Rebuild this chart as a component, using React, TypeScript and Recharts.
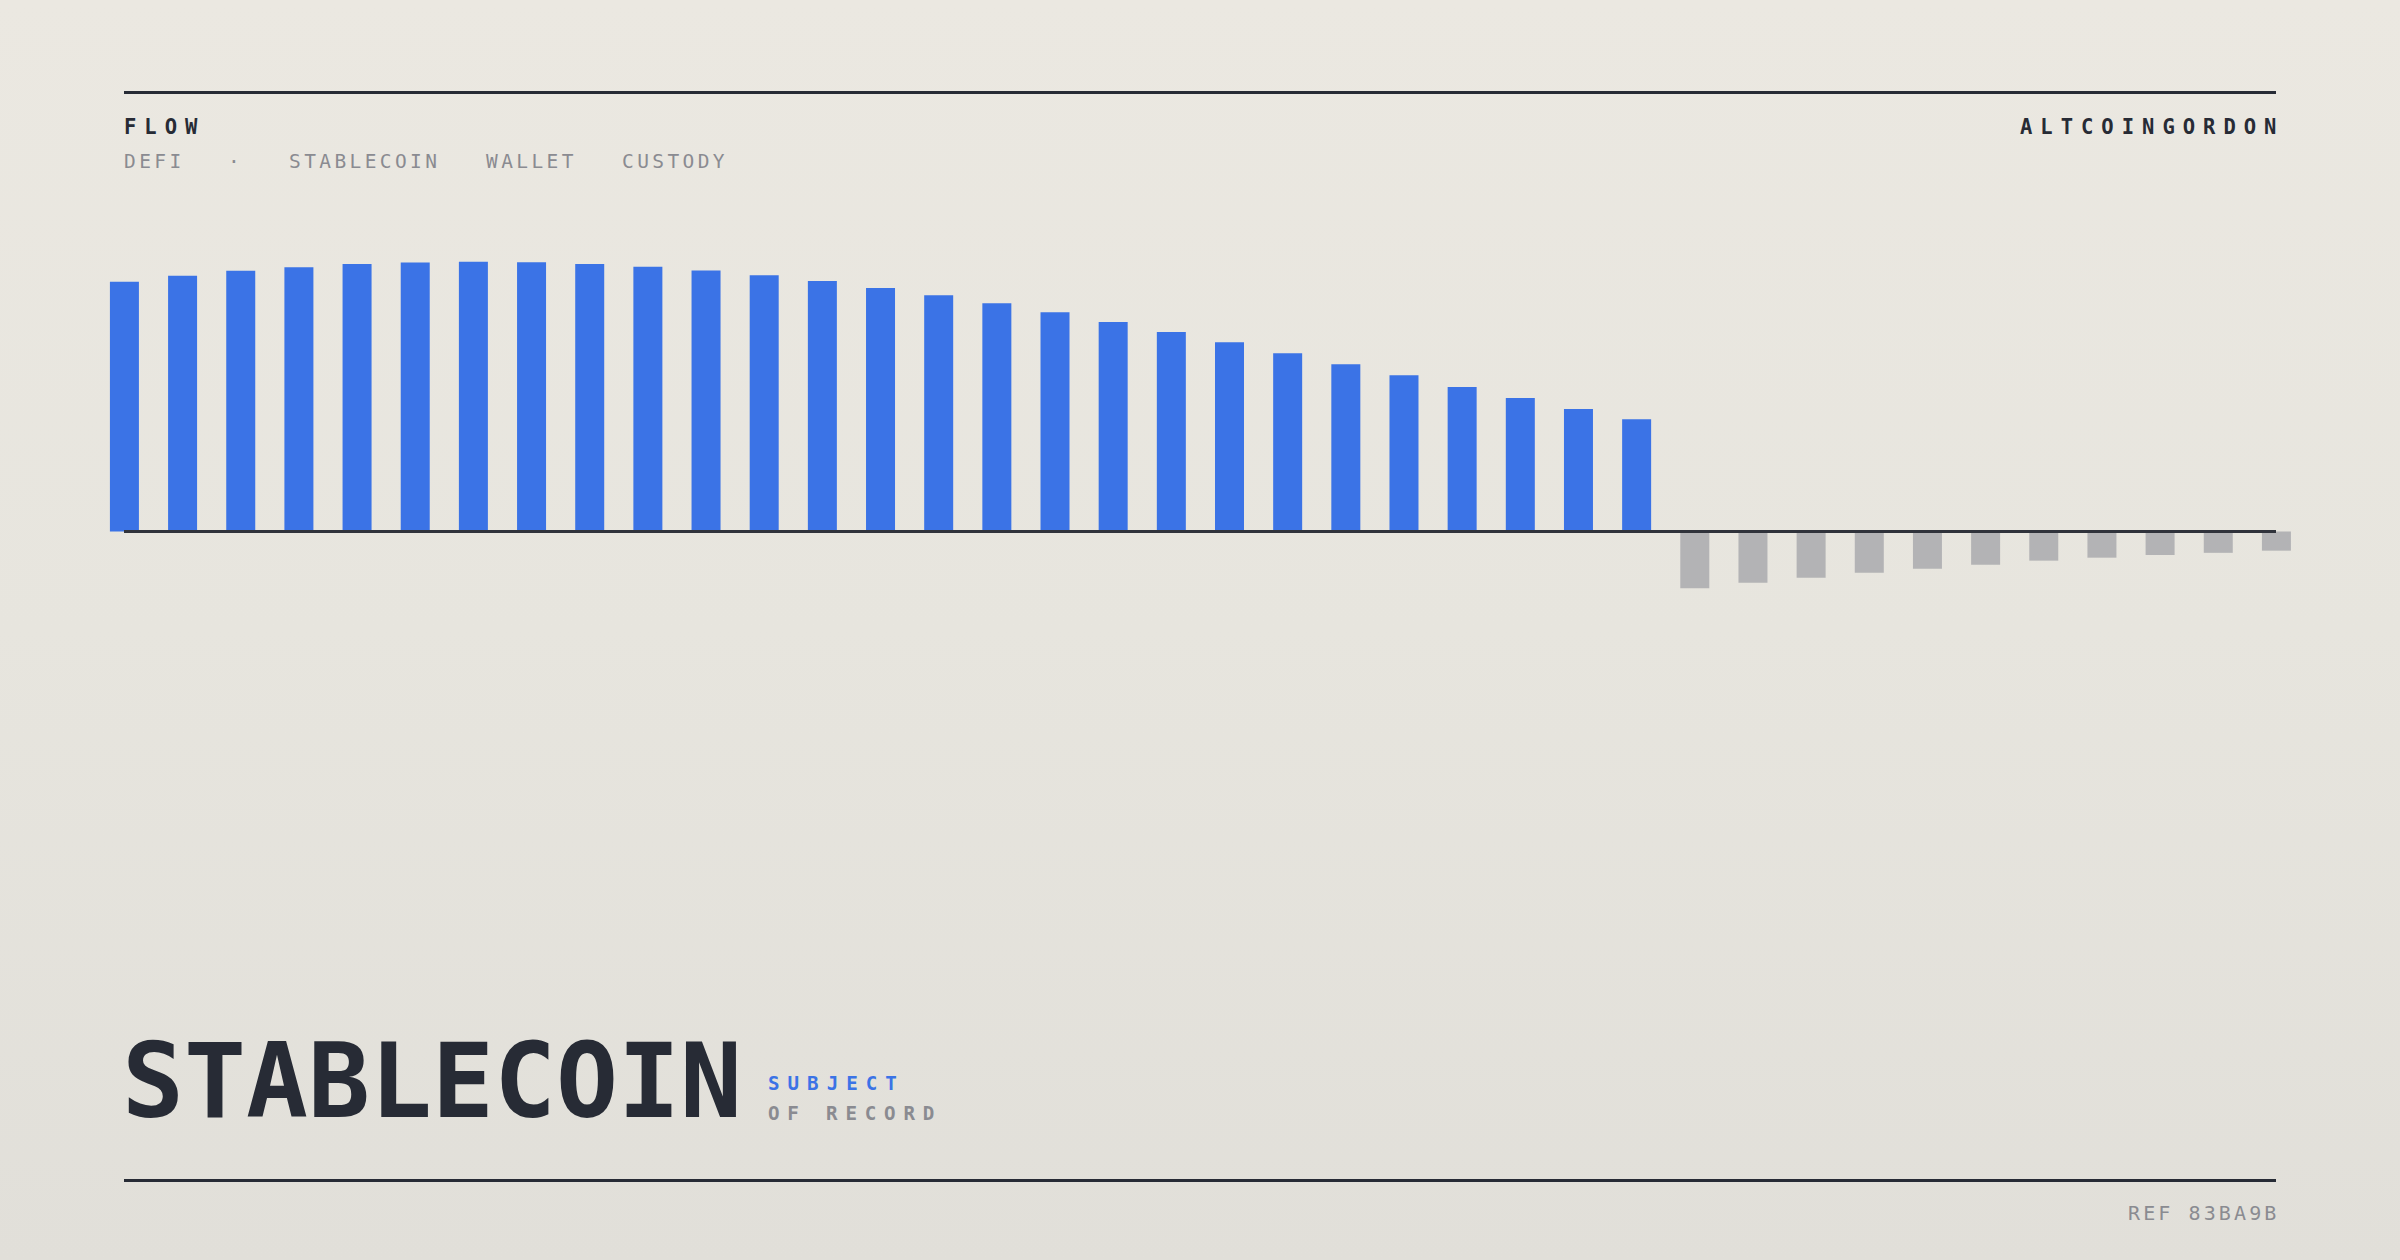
import { Bar, BarChart, Cell, ReferenceLine, XAxis, YAxis } from "recharts";

// period index (one bar per period)
const periods = [
  0, 1, 2, 3, 4, 5, 6, 7, 8, 9, 10, 11, 12, 13, 14, 15, 16, 17, 18, 19,
  20, 21, 22, 23, 24, 25, 26, 27, 28, 29, 30, 31, 32, 33, 34, 35, 36, 37,
];

// net flow per period
const netFlow = [
  92.5, 94.7, 96.6, 97.9, 99.1, 99.6, 99.9, 99.7, 99.1, 98.1, 96.7, 94.9, 92.8,
  90.2, 87.5, 84.5, 81.2, 77.6, 73.9, 70.1, 66.0, 61.9, 57.9, 53.5, 49.4, 45.4,
  41.6, -21.0, -19.0, -17.1, -15.3, -13.8, -12.3, -10.8, -9.7, -8.7, -7.9, -7.1,
];

const tags = ["DEFI", "·", "STABLECOIN", "WALLET", "CUSTODY"];
const tagLeft = [124, 228, 289, 486, 622];

const data = periods.map((t, i) => ({ t, v: netFlow[i] }));

const MONO = '"DejaVu Sans Mono", "Liberation Mono", monospace';
const INK = "#272b35";
const MUTED = "#8a8b91";
const BLUE = "#3b73e6";
const GREY = "#b3b3b5";

export default function App() {
  return (
    <div
      style={{
        position: "absolute",
        left: 0,
        top: 0,
        width: 2400,
        height: 1260,
        overflow: "hidden",
        background: "linear-gradient(180deg, #ebe8e1 0%, #e7e5de 50%, #e1dfd9 100%)",
        fontFamily: MONO,
      }}
    >
      <div style={{ position: "absolute", left: 0, top: 0 }}>
        <BarChart
          width={2400}
          height={1260}
          data={data}
          margin={{ top: 261.5, right: 124, bottom: 593.5, left: 124 }}
        >
          <XAxis dataKey="t" type="number" domain={[0, 37]} hide />
          <YAxis domain={[-50, 100]} hide />
          <Bar dataKey="v" barSize={29} isAnimationActive={false}>
            {data.map((d) => (
              <Cell key={d.t} fill={d.v >= 0 ? BLUE : GREY} />
            ))}
          </Bar>
          <ReferenceLine y={0} stroke="#30333b" strokeWidth={3} />
        </BarChart>
      </div>

      {/* rules */}
      <div style={{ position: "absolute", left: 124, top: 91, width: 2152, height: 3, background: INK }} />
      <div style={{ position: "absolute", left: 124, top: 1179, width: 2152, height: 3, background: INK }} />

      {/* header */}
      <div
        style={{
          position: "absolute",
          left: 124,
          top: 117,
          fontSize: 20.5,
          lineHeight: "20.5px",
          fontWeight: 700,
          letterSpacing: 8,
          color: INK,
        }}
      >
        FLOW
      </div>
      {tags.map((tag, i) => (
        <div
          key={tag}
          style={{
            position: "absolute",
            left: tagLeft[i],
            top: 151.5,
            fontSize: 19.5,
            lineHeight: "19.5px",
            letterSpacing: 3.4,
            color: MUTED,
          }}
        >
          {tag}
        </div>
      ))}
      <div
        style={{
          position: "absolute",
          left: 2020,
          top: 117,
          fontSize: 20.5,
          lineHeight: "20.5px",
          fontWeight: 700,
          letterSpacing: 8,
          color: INK,
        }}
      >
        ALTCOINGORDON
      </div>

      {/* footer title */}
      <div
        style={{
          position: "absolute",
          left: 122,
          top: 1029.5,
          fontSize: 103,
          lineHeight: "103px",
          fontWeight: 700,
          color: INK,
        }}
      >
        STABLECOIN
      </div>
      <div
        style={{
          position: "absolute",
          left: 768,
          top: 1073.8,
          fontSize: 19.2,
          lineHeight: "19.2px",
          fontWeight: 700,
          letterSpacing: 8,
          color: BLUE,
        }}
      >
        SUBJECT
      </div>
      <div
        style={{
          position: "absolute",
          left: 768,
          top: 1103.8,
          fontSize: 19.2,
          lineHeight: "19.2px",
          fontWeight: 700,
          letterSpacing: 7.8,
          color: MUTED,
        }}
      >
        OF RECORD
      </div>
      <div
        style={{
          position: "absolute",
          left: 2128,
          top: 1203,
          fontSize: 20,
          lineHeight: "20px",
          letterSpacing: 3.1,
          color: MUTED,
        }}
      >
        REF 83BA9B
      </div>
    </div>
  );
}
